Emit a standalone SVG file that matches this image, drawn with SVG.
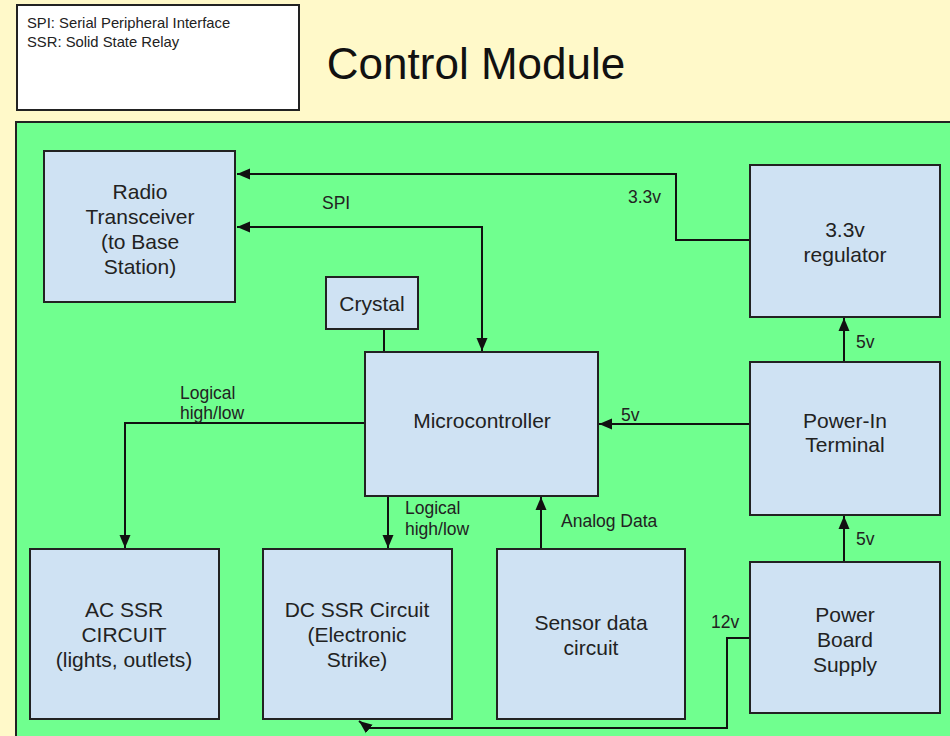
<svg xmlns="http://www.w3.org/2000/svg" width="950" height="736" viewBox="0 0 950 736">
<style>
.box{fill:#cfe2f3;stroke:#222;stroke-width:2}
.t{font-family:"Liberation Sans",Arial,sans-serif;font-size:21px;fill:#222;text-anchor:middle}
.l{font-family:"Liberation Sans",Arial,sans-serif;font-size:17.5px;fill:#222}
.c{fill:none;stroke:#111;stroke-width:2}
</style>
<defs>
<marker id="ah" markerUnits="userSpaceOnUse" markerWidth="14" markerHeight="14" viewBox="0 0 14 14" refX="13" refY="7" orient="auto">
<path d="M0,1.5 L13,7 L0,12.5 Z" fill="#111"/>
</marker>
<marker id="as" markerUnits="userSpaceOnUse" markerWidth="14" markerHeight="14" viewBox="0 0 14 14" refX="13" refY="7" orient="auto-start-reverse">
<path d="M0,1.5 L13,7 L0,12.5 Z" fill="#111"/>
</marker>
</defs>
<rect x="0" y="0" width="950" height="736" fill="#fff9c9"/>
<g id="legend">
<rect x="17" y="5" width="282" height="105" fill="#fff" stroke="#222" stroke-width="2"/>
<text class="l" x="27" y="28" style="font-size:14.8px">SPI: Serial Peripheral Interface</text>
<text class="l" x="27" y="47" style="font-size:14.8px">SSR: Solid State Relay</text>
</g>
<text id="title" x="476" y="79" style="font-family:'Liberation Sans',Arial,sans-serif;font-size:44px;fill:#111;text-anchor:middle">Control Module</text>
<rect id="panel" x="16" y="122" width="950" height="630" fill="#70ff8f" stroke="#222" stroke-width="2"/>
<g id="connectors">
<path class="c" d="M750,240 H676 V174 H237" marker-end="url(#ah)"/>
<path class="c" d="M482,351 V227 H237" marker-start="url(#as)" marker-end="url(#ah)"/>
<path class="c" d="M384,329 V352"/>
<path class="c" d="M365,423 H125 V548" marker-end="url(#ah)"/>
<path class="c" d="M388,496 V548" marker-end="url(#ah)"/>
<path class="c" d="M541,549 V497" marker-end="url(#ah)"/>
<path class="c" d="M750,424 H599" marker-end="url(#ah)"/>
<path class="c" d="M750.5,424 V437"/>
<path class="c" d="M844,362 V318" marker-end="url(#ah)"/>
<path class="c" d="M844,562 V516" marker-end="url(#ah)"/>
<path class="c" d="M749,638 H727 V728 H368 L359,721" marker-end="url(#ah)"/>
<text class="l" x="628" y="203">3.3v</text>
<text class="l" x="322" y="209">SPI</text>
<text class="l" x="621" y="421">5v</text>
<text class="l" x="180" y="399">Logical</text>
<text class="l" x="180" y="419">high/low</text>
<text class="l" x="405" y="514">Logical</text>
<text class="l" x="405" y="535">high/low</text>
<text class="l" x="561" y="527">Analog Data</text>
<text class="l" x="856" y="348">5v</text>
<text class="l" x="856" y="545">5v</text>
<text class="l" x="711" y="628">12v</text>
</g>
<g id="radio">
<rect class="box" x="44" y="151" width="191" height="151"/>
<text class="t" x="140" y="199">Radio</text>
<text class="t" x="140" y="224">Transceiver</text>
<text class="t" x="140" y="249">(to Base</text>
<text class="t" x="140" y="274">Station)</text>
</g>
<g id="regulator">
<rect class="box" x="750" y="165" width="190" height="152"/>
<text class="t" x="845" y="237">3.3v</text>
<text class="t" x="845" y="262">regulator</text>
</g>
<g id="crystal">
<rect class="box" x="326" y="277" width="92" height="52"/>
<text class="t" x="372" y="311">Crystal</text>
</g>
<g id="micro">
<rect class="box" x="365" y="352" width="233" height="144"/>
<text class="t" x="482" y="428">Microcontroller</text>
</g>
<g id="powerin">
<rect class="box" x="750" y="362" width="190" height="153"/>
<text class="t" x="845" y="428">Power-In</text>
<text class="t" x="845" y="452">Terminal</text>
</g>
<g id="acssr">
<rect class="box" x="30" y="549" width="189" height="170"/>
<text class="t" x="124" y="617">AC SSR</text>
<text class="t" x="124" y="642">CIRCUIT</text>
<text class="t" x="124" y="667">(lights, outlets)</text>
</g>
<g id="dcssr">
<rect class="box" x="263" y="549" width="189" height="170"/>
<text class="t" x="357" y="617">DC SSR Circuit</text>
<text class="t" x="357" y="642">(Electronic</text>
<text class="t" x="357" y="667">Strike)</text>
</g>
<g id="sensor">
<rect class="box" x="497" y="549" width="188" height="170"/>
<text class="t" x="591" y="630">Sensor data</text>
<text class="t" x="591" y="655">circuit</text>
</g>
<g id="powerboard">
<rect class="box" x="750" y="562" width="190" height="151"/>
<text class="t" x="845" y="622">Power</text>
<text class="t" x="845" y="647">Board</text>
<text class="t" x="845" y="672">Supply</text>
</g>
</svg>
